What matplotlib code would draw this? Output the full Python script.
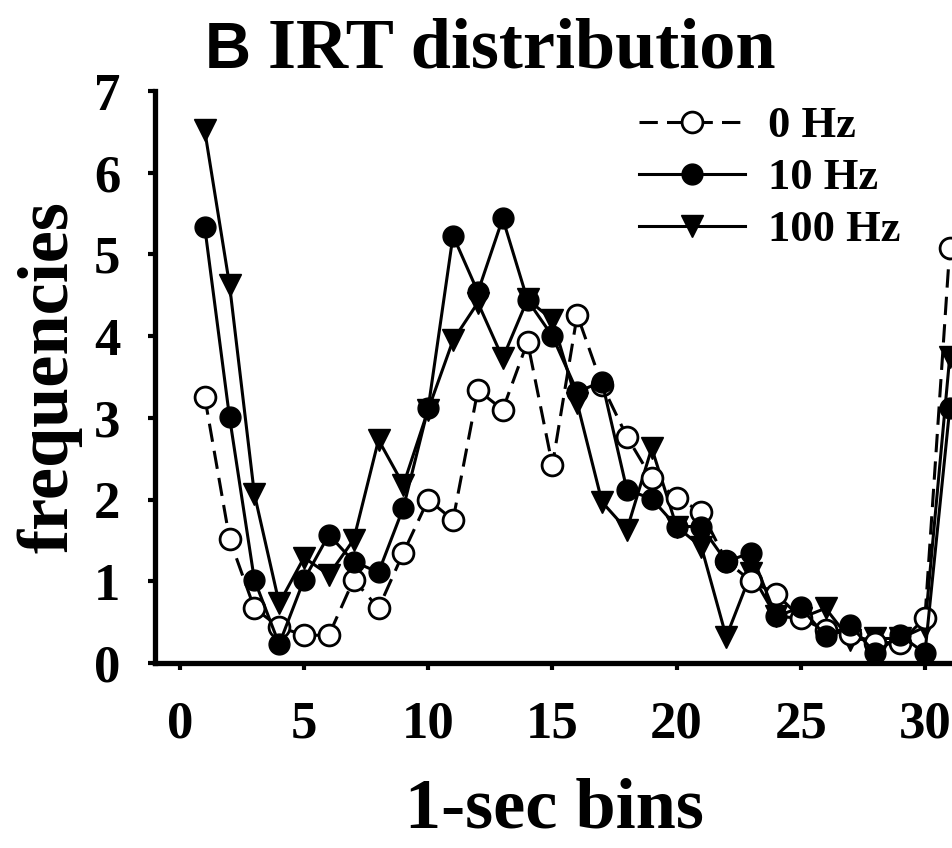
import numpy as np
import matplotlib.pyplot as plt

plt.rcParams['font.family'] = ['Liberation Serif', 'DejaVu Serif']
plt.rcParams['font.weight'] = 'bold'

bins = np.arange(1, 32)
hz0 = [3.26, 1.52, 0.67, 0.44, 0.34, 0.34, 1.02, 0.67, 1.35, 2.0, 1.75, 3.34, 3.1, 3.93, 2.42, 4.26,
       3.4, 2.77, 2.26, 2.02, 1.85, 1.25, 1.0, 0.85, 0.55, 0.4, 0.35, 0.25, 0.25, 0.55, 5.08]
hz10 = [5.34, 3.01, 1.02, 0.23, 1.02, 1.57, 1.24, 1.11, 1.9, 3.12, 5.23, 4.54, 5.44, 4.44, 4.0, 3.32,
        3.44, 2.12, 2.01, 1.67, 1.67, 1.24, 1.35, 0.57, 0.68, 0.33, 0.46, 0.12, 0.34, 0.12, 3.12]
hz100 = [6.52, 4.63, 2.07, 0.73, 1.29, 1.08, 1.51, 2.73, 2.18, 3.1, 3.95, 4.41, 3.73, 4.45, 4.2, 3.18,
         1.97, 1.63, 2.63, 1.67, 1.42, 0.32, 1.1, 0.57, 0.55, 0.67, 0.28, 0.3, 0.3, 0.44, 3.75]
labels = ['0 Hz', '10 Hz', '100 Hz']

fig = plt.figure(figsize=(9.53, 8.48), dpi=100)
ax = fig.add_axes([155 / 953, 185 / 848, 798 / 953, 572 / 848])

lw = 2.2
ax.plot(bins, hz0, color='black', lw=lw, linestyle=(0, (6, 3)), marker='o', ms=15,
        mfc='white', mec='black', mew=2, label=labels[0], zorder=3, clip_on=False)
ax.plot(bins, hz10, color='black', lw=lw, marker='o', ms=15, mfc='black', mec='black',
        label=labels[1], zorder=4, clip_on=False)
ax.plot(bins, hz100, color='black', lw=lw, marker='v', ms=16, mfc='black', mec='black',
        label=labels[2], zorder=2, clip_on=False)

ax.set_xlim(-1, 31.13)
ax.set_ylim(0, 7)
ax.set_xticks(np.arange(0, 31, 5))
ax.set_yticks(np.arange(0, 8, 1))

for side in ['top', 'right']:
    ax.spines[side].set_visible(False)
for side in ['left', 'bottom']:
    ax.spines[side].set_linewidth(3.8)

ax.tick_params(axis='x', direction='out', length=5, width=3, labelsize=38, pad=22)
ax.tick_params(axis='y', direction='out', length=5, width=3, labelsize=38, pad=20)

ax.set_xlabel('1-sec bins', fontsize=52, fontweight='bold', labelpad=21)
ax.set_ylabel('frequencies', fontsize=52, fontweight='bold', labelpad=8)

ax.legend(loc='upper right', bbox_to_anchor=(900 / 953, 1 - 106 / 848),
          bbox_transform=fig.transFigure, frameon=False, fontsize=32,
          handlelength=2.4, handletextpad=0.5, labelspacing=0.27, borderpad=0,
          borderaxespad=0)

fig.text(205 / 953, 1 - 68 / 848, 'B', family=['Liberation Sans', 'DejaVu Sans'],
         fontsize=46, fontweight='bold', va='baseline', ha='left')
fig.text(268 / 953, 1 - 68 / 848, 'IRT distribution', fontsize=52, fontweight='bold',
         va='baseline', ha='left')

fig.savefig('out.png', dpi=100)
